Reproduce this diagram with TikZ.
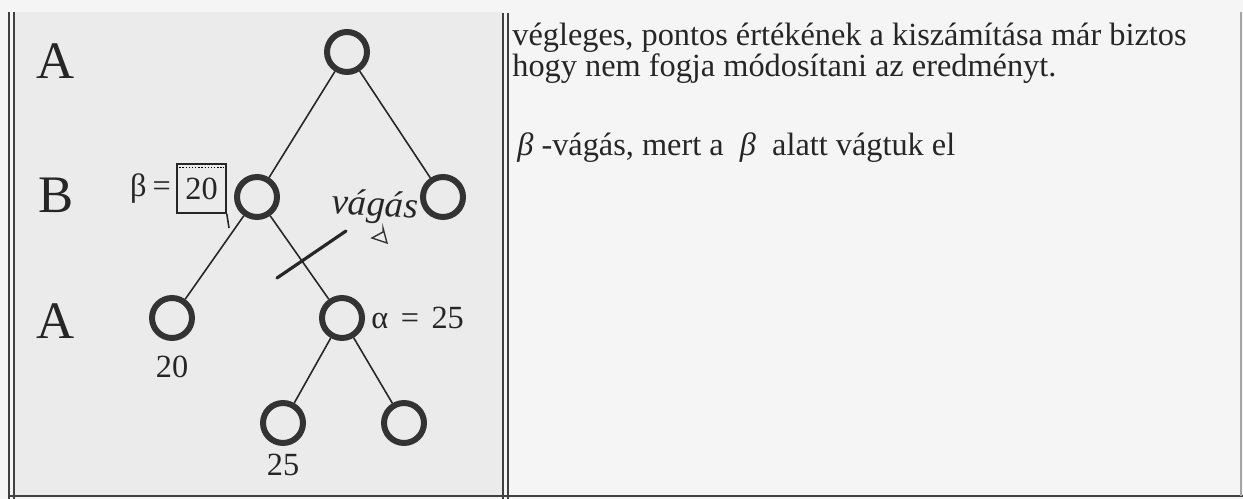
\documentclass[tikz,border=0pt]{standalone}
\usepackage{fontspec}
\setmainfont{Liberation Serif}
\usetikzlibrary{calc}
\usetikzlibrary{positioning}

\begin{document}
\begin{tikzpicture}[
        x=0.02cm, y=-0.02cm,
        every node/.style={font=\fontsize{18.4}{21}\selectfont, text=black!85, inner sep=0pt},
        vertex/.style={circle, draw=black!80, line width=3.4pt, minimum size=0.8cm},
        edge/.style={draw=black!85, line width=0.9pt},
        rule/.style={draw=black!75, line width=0.9pt},
        level/.style={font=\fontsize{30}{36}\selectfont},
        cut/.style={draw=black!85, line width=1.8pt, line cap=round}
    ]

    \fill[black!4] (0,0) rectangle (1243,499);
    \fill[black!8] (14,12) rectangle (503,496);
    \useasboundingbox (0,0) rectangle (1243,499);

    % table lines
    \draw[rule] (9,12) -- (9,499);
    \draw[rule] (14,12) -- (14,499);
    \draw[rule] (503,13) -- (503,499);
    \draw[rule] (508,13) -- (508,499);
    \draw[rule] (9,496) -- (1243,496);
    \draw[draw=black!35, line width=0.6pt] (1241,12) -- (1241,496);

    % levels
    \node[level] (LA1) at (56,61) {A};
    \node[level] (LB)  at (56,195) {B};
    \node[level] (LA2) at (56,321) {A};

    % tree
    \node[vertex] (R)  at (347,52)  {};
    \node[vertex] (BL) at (257,197) {};
    \node[vertex] (BR) at (443,197) {};
    \node[vertex] (AL) at (172,318) {};
    \node[vertex] (AR) at (342,318) {};
    \node[vertex] (CL) at (283,423) {};
    \node[vertex] (CR) at (404,423) {};

    \draw[edge] (R) -- (BL);
    \draw[edge] (R) -- (BR);
    \draw[edge] (BL) -- (AL);
    \draw[edge] (BL) -- (AR);
    \draw[edge] (AR) -- (CL);
    \draw[edge] (AR) -- (CR);

    % values
    \node[draw=black!85, line width=0.9pt, minimum width=0.98cm, minimum height=0.98cm]
        (box) at (201.5,188.5) {20};
    \draw[densely dotted, line width=0.8pt] ($(box.north west)+(3,4)$) -- ($(box.north east)+(-3,4)$);
    \coordinate (tail) at (229,228);
    \draw[black!85, line width=0.9pt] (box.south east) -- (tail);
    \node[anchor=east] (beta) at ($(box.west)+(-5,0)$) {β\hspace{0.12cm}=};

    \node[anchor=west] (alpha) at ($(AR.east)+(6,0)$) {α\hspace{0.25cm}=\hspace{0.25cm}25};
    \node[below=0.3cm of AL] (vAL) {20};
    \node[below=0.16cm of CL] (vCL) {25};

    % handwritten note
    \node[font=\fontsize{21}{24}\itshape, rotate=-3] (note) at (375,207) {vágás};
    \draw[black!80, line width=0.8pt] (383,228) -- (383,232) -- (372,238) -- (387,243) -- cycle;
    \coordinate (cutA) at (277,278);
    \coordinate (cutB) at (346,231);
    \draw[cut] (cutA) -- (cutB);

    % right column
    \node[anchor=base west] (t1) at (512,46) {végleges, pontos értékének a kiszámítása már biztos};
    \node[anchor=base west] (t2) at (512,77) {hogy nem fogja módosítani az eredményt.};
    \node[anchor=base west] (t3) at (517,156)
        {{\itshape β}\ -vágás, mert a\ \ {\itshape β}\ \ alatt vágtuk el};

\end{tikzpicture}
\end{document}
